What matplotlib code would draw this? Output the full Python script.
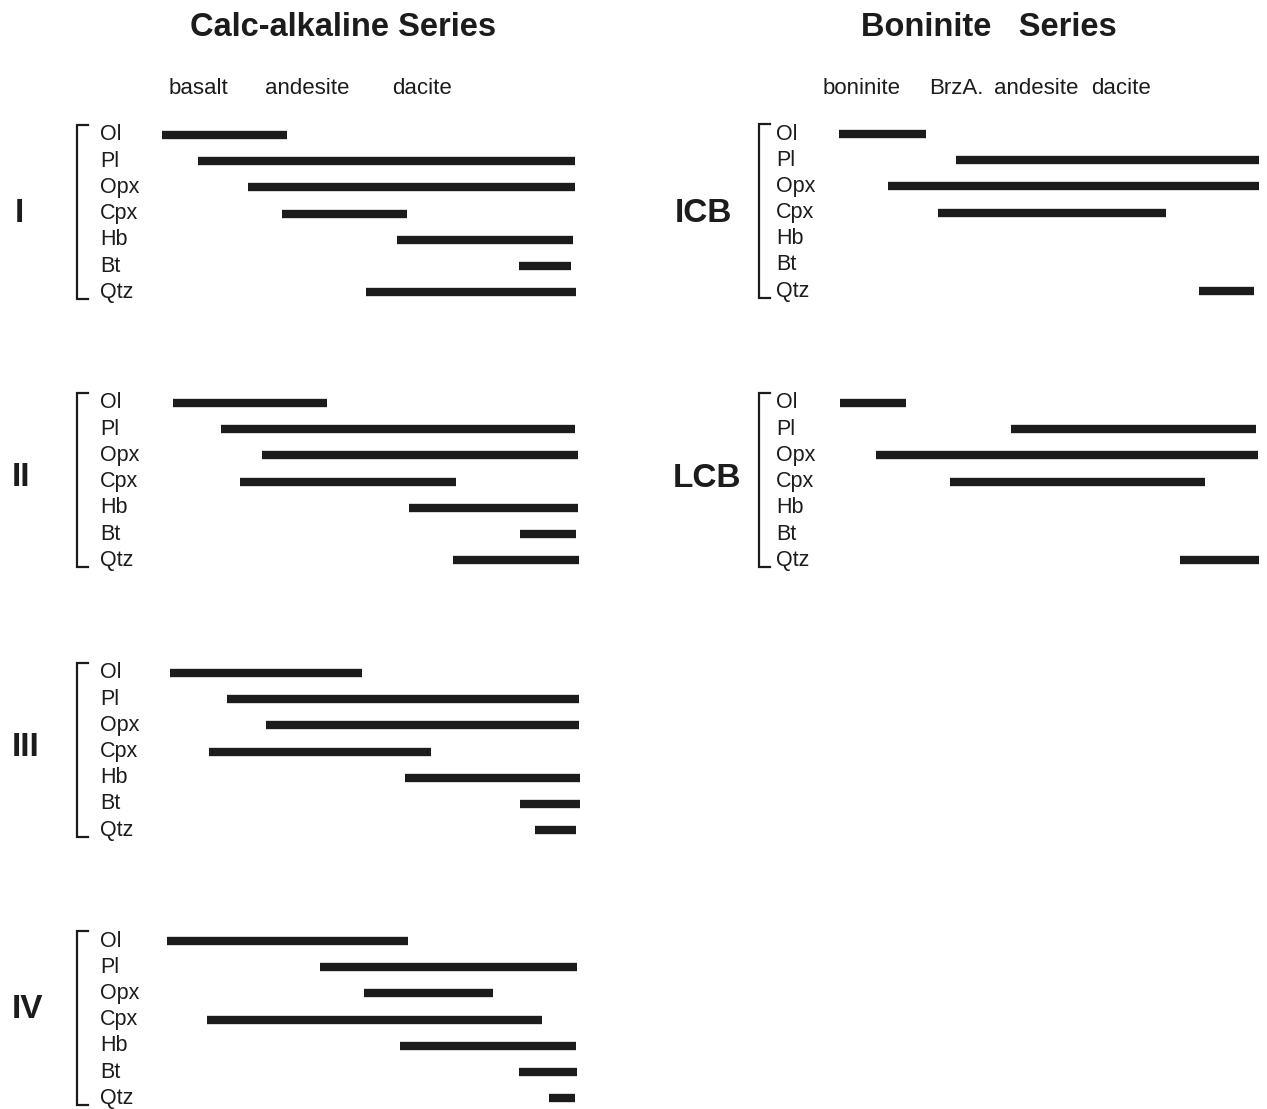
import matplotlib
matplotlib.use("Agg")
import matplotlib.pyplot as plt

plt.rcParams['font.family'] = ['Liberation Sans', 'DejaVu Sans']

# ---------------- data ----------------
minerals = ["Ol", "Pl", "Opx", "Cpx", "Hb", "Bt", "Qtz"]

calc_headers = ["basalt", "andesite", "dacite"]
bon_headers = ["boninite", "BrzA.", "andesite", "dacite"]

# ranges on a relative compositional scale 0-100 (None = mineral absent)
I_start = [0.5, 9.0, 21.0, 29.0, 56.4, 85.5, 49.0]
I_end = [30.2, 98.8, 98.8, 58.8, 98.3, 97.9, 99.0]

II_start = [3.1, 14.5, 24.3, 19.0, 59.3, 85.7, 69.8]
II_end = [39.8, 98.8, 99.5, 70.5, 99.5, 99.0, 99.8]

III_start = [2.4, 16.0, 25.2, 11.7, 58.3, 85.7, 89.3]
III_end = [48.1, 99.8, 99.8, 64.5, 100.0, 100.0, 99.0]

IV_start = [1.7, 38.1, 48.6, 11.2, 57.1, 85.5, 92.6]
IV_end = [59.0, 99.3, 79.3, 91.0, 99.0, 99.3, 98.8]

ICB_start = [0.2, 28.0, 11.8, 23.7, None, None, 85.5]
ICB_end = [20.9, 99.8, 99.8, 77.7, None, None, 98.6]

LCB_start = [0.5, 41.0, 9.0, 26.5, None, None, 81.0]
LCB_end = [16.1, 99.1, 99.5, 87.0, None, None, 99.8]

# ---------------- layout ----------------
W, H = 1267, 1109
fig = plt.figure(figsize=(W / 100, H / 100), dpi=100)
fig.patch.set_facecolor("white")

INK = "#1c1c1c"
ROW_H = 26.2


def fx(px):
    return px / W


def fy(py):
    return 1 - py / H


panels = [
    # name, starts, ends, x0, x1, ytop, bracket_x, label_x, name_x, name_y
    ("I", I_start, I_end, 160, 580, 135, 77, 100, 19, 214),
    ("II", II_start, II_end, 160, 580, 403, 77, 100, 21, 477),
    ("III", III_start, III_end, 160, 580, 673, 77, 100, 26, 748),
    ("IV", IV_start, IV_end, 160, 580, 941, 77, 100, 28, 1009),
    ("ICB", ICB_start, ICB_end, 838, 1260, 134, 759, 776, 703, 214),
    ("LCB", LCB_start, LCB_end, 838, 1260, 403, 759, 776, 707, 478),
]

for name, starts, ends, x0, x1, ytop, bx, lx, nx, ny in panels:
    scale = (x1 - x0) / 100.0
    top_px = ytop - 0.5 * ROW_H
    ax = fig.add_axes([fx(x0), fy(top_px + 7 * ROW_H), (x1 - x0) / W, 7 * ROW_H / H])
    ax.set_xlim(0, 100)
    ax.set_ylim(6.5, -0.5)
    ax.axis("off")

    def dx(px):
        return (px - x0) / scale

    rows = [i for i, s in enumerate(starts) if s is not None]
    lc = ax.hlines(rows, [starts[i] for i in rows], [ends[i] for i in rows],
                   colors=INK, linewidth=6.0)
    lc.set_capstyle("butt")

    for i, m in enumerate(minerals):
        ax.text(dx(lx), i, m, ha="left", va="center", fontsize=15.5,
                color=INK, clip_on=False)

    ax.plot([dx(bx + 11), dx(bx), dx(bx), dx(bx + 11)],
            [-0.38, -0.38, 6.25, 6.25], color=INK, linewidth=1.6,
            clip_on=False, solid_joinstyle="miter")

    fig.text(fx(nx), fy(ny), name, ha="center", va="center", fontsize=24,
             fontweight="bold", color=INK)

# titles
fig.text(fx(343), fy(28), "Calc-alkaline Series", ha="center", va="center",
         fontsize=23.5, fontweight="bold", color=INK)
fig.text(fx(989), fy(28), "Boninite   Series", ha="center", va="center",
         fontsize=23.5, fontweight="bold", color=INK)

# column headers
for txt, x in zip(calc_headers, [198, 307, 422]):
    fig.text(fx(x), fy(89), txt, ha="center", va="center", fontsize=16, color=INK)
for txt, x in zip(bon_headers, [862, 956, 1036, 1121]):
    fig.text(fx(x), fy(89), txt, ha="center", va="center", fontsize=16, color=INK)

fig.savefig("out.png", dpi=100, facecolor="white")
